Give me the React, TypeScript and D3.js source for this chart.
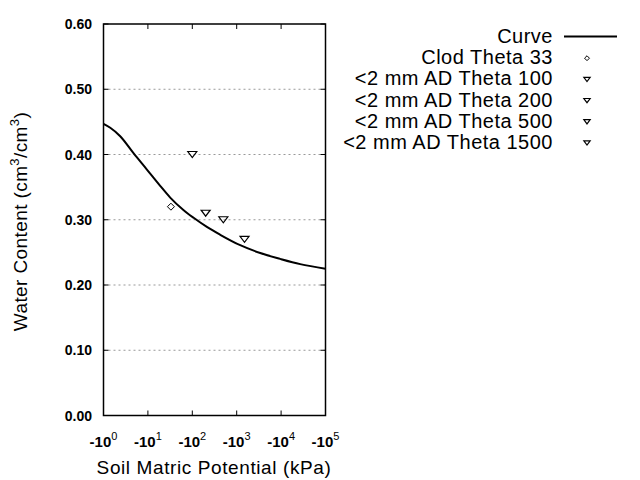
import React from "react";
import * as d3 from "d3";

const curvePotential = [1, 1.42, 2.38, 4.74, 9.5, 18.9, 31.8, 63, 107, 213, 426, 1200, 3390, 9550, 26900, 100000];
const curveTheta = [0.447, 0.441, 0.428, 0.402, 0.377, 0.352, 0.334, 0.315, 0.303, 0.289, 0.277, 0.261, 0.249, 0.240, 0.232, 0.225];

const pointLabels = ["Clod Theta 33", "<2 mm AD Theta 100", "<2 mm AD Theta 200", "<2 mm AD Theta 500", "<2 mm AD Theta 1500"];
const pointPotential = [33, 100, 200, 500, 1500];
const pointTheta = [0.32, 0.40, 0.31, 0.30, 0.27];
const pointShape = ["diamond", "triangle", "triangle", "triangle", "triangle"];

const yTicks = [0, 0.1, 0.2, 0.3, 0.4, 0.5, 0.6];
const xTickExp = [0, 1, 2, 3, 4, 5];

const W = 640, H = 480;
const L = 103.5, R = 325.5, T = 24, B = 415.5;
const font = "Arial, 'Liberation Sans', Helvetica, sans-serif";

function Marker({ shape, x, y, k = 1 }: { shape: string; x: number; y: number; k?: number }) {
  if (shape === "diamond") {
    const s = 3.5 * k;
    return <path d={`M${x},${y - s}L${x + s},${y}L${x},${y + s}L${x - s},${y}Z`} fill="none" stroke="#000" strokeWidth={1} />;
  }
  const w = 4.5 * k, h = 6 * k;
  return <path d={`M${x - w},${y - h / 2}L${x + w},${y - h / 2}L${x},${y + h / 2}Z`} fill="none" stroke="#000" strokeWidth={1.2} />;
}

export default function App() {
  const x = d3.scaleLog().domain([1, 1e5]).range([L, R]);
  const y = d3.scaleLinear().domain([0, 0.6]).range([B, T]);
  const lineGen = d3
    .line<number>()
    .x((_, i) => x(curvePotential[i]))
    .y((d) => y(d))
    .curve(d3.curveMonotoneX);
  const legX = 553;
  const legY0 = 43;
  const legDy = 21.2;
  return (
    <svg width={W} height={H} style={{ position: "absolute", left: 0, top: 0, background: "#fff" }}>
      <rect x={0} y={0} width={W} height={H} fill="#fff" />
      {yTicks.filter((t) => t > 0 && t < 0.6).map((t) => (
        <line key={"g" + t} x1={L} x2={R} y1={y(t)} y2={y(t)} stroke="#999" strokeWidth={1} strokeDasharray="2,3" />
      ))}
      {yTicks.map((t) => (
        <g key={"yt" + t}>
          <line x1={L} x2={L + 5} y1={y(t)} y2={y(t)} stroke="#000" />
          <line x1={R - 5} x2={R} y1={y(t)} y2={y(t)} stroke="#000" />
          <text x={92} y={y(t) + 5} textAnchor="end" fontFamily={font} fontSize={14} fontWeight="bold" fill="#000">
            {t.toFixed(2)}
          </text>
        </g>
      ))}
      {xTickExp.map((e) => {
        const xv = x(Math.pow(10, e));
        return (
          <g key={"xt" + e}>
            <line x1={xv} x2={xv} y1={B} y2={B - 5} stroke="#000" />
            <line x1={xv} x2={xv} y1={T} y2={T + 5} stroke="#000" />
            <text x={xv} y={447} textAnchor="middle" fontFamily={font} fontSize={15} fontWeight="bold" fill="#000">
              -10
              <tspan dy={-7} fontSize={11} fontWeight="normal">{e}</tspan>
            </text>
          </g>
        );
      })}
      <path d={lineGen(curveTheta) || ""} fill="none" stroke="#000" strokeWidth={2} />
      {pointPotential.map((p, i) => (
        <Marker key={"p" + i} shape={pointShape[i]} x={x(p)} y={y(pointTheta[i])} />
      ))}
      <rect x={L} y={T} width={R - L} height={B - T} fill="none" stroke="#000" strokeWidth={1.5} />
      <text x={214} y={474} textAnchor="middle" fontFamily={font} fontSize={19} letterSpacing={0.6} fill="#000">
        Soil Matric Potential (kPa)
      </text>
      <text transform={`translate(27,${221.5}) rotate(-90)`} textAnchor="middle" fontFamily={font} fontSize={19} letterSpacing={0.4} fill="#000">
        Water Content (cm<tspan dy={-8} fontSize={13}>3</tspan>
        <tspan dy={8}>/cm</tspan>
        <tspan dy={-8} fontSize={13}>3</tspan>
        <tspan dy={8}>)</tspan>
      </text>
      <g>
        <text x={legX} y={legY0} textAnchor="end" fontFamily={font} fontSize={20} letterSpacing={0.5} fill="#000">Curve</text>
        <line x1={564} x2={617} y1={legY0 - 6.5} y2={legY0 - 6.5} stroke="#000" strokeWidth={2} />
        {pointLabels.map((lab, i) => {
          const yy = legY0 + legDy * (i + 1);
          return (
            <g key={"l" + i}>
              <text x={legX} y={yy} textAnchor="end" fontFamily={font} fontSize={20} letterSpacing={0.5} fill="#000">{lab}</text>
              <Marker shape={pointShape[i]} x={587} y={yy - 6} k={0.7} />
            </g>
          );
        })}
      </g>
    </svg>
  );
}
